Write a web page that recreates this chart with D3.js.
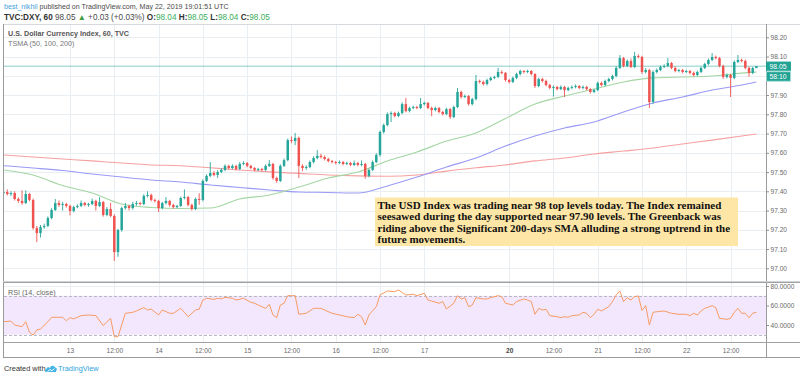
<!DOCTYPE html>
<html>
<head>
<meta charset="utf-8">
<script src="https://cdn.jsdelivr.net/npm/d3@7"></script>
<style>
  body { margin: 0; background: #fff; }
  svg { display: block; font-family: "Liberation Sans", Arial, sans-serif; }
</style>
</head>
<body>
<script>
// ---- data (hourly DXY bars, May 12 - May 22 2019) ----
const firstOpen = 97.391;
const closes = [
  97.396, 97.386, 97.391, 97.360, 97.350, 97.339, 97.386, 97.355, 97.209, 97.183,
  97.214, 97.220, 97.261, 97.303, 97.339, 97.329, 97.334, 97.324, 97.298, 97.318,
  97.324, 97.339, 97.329, 97.334, 97.350, 97.324, 97.344, 97.277, 97.308, 97.272,
  97.084, 97.199, 97.313, 97.324, 97.313, 97.334, 97.339, 97.334, 97.376, 97.381,
  97.355, 97.350, 97.313, 97.339, 97.350, 97.329, 97.318, 97.324, 97.365, 97.370,
  97.329, 97.308, 97.360, 97.355, 97.454, 97.480, 97.495, 97.485, 97.500, 97.511,
  97.532, 97.521, 97.532, 97.516, 97.542, 97.547, 97.532, 97.521, 97.511, 97.516,
  97.511, 97.532, 97.542, 97.469, 97.454, 97.532, 97.562, 97.666, 97.661, 97.677,
  97.532, 97.521, 97.526, 97.552, 97.573, 97.584, 97.578, 97.568, 97.557, 97.552,
  97.547, 97.552, 97.542, 97.547, 97.537, 97.547, 97.537, 97.542, 97.480, 97.511,
  97.552, 97.589, 97.708, 97.744, 97.801, 97.807, 97.791, 97.807, 97.853, 97.817,
  97.833, 97.838, 97.833, 97.853, 97.859, 97.833, 97.822, 97.833, 97.812, 97.801,
  97.827, 97.786, 97.838, 97.916, 97.890, 97.895, 97.853, 97.879, 97.973, 97.968,
  97.957, 97.978, 97.989, 97.994, 98.020, 98.015, 97.978, 97.968, 97.989, 98.009,
  98.025, 98.020, 98.025, 98.009, 97.947, 97.983, 97.973, 97.952, 97.937, 97.942,
  97.931, 97.942, 97.926, 97.937, 97.942, 97.947, 97.937, 97.942, 97.931, 97.916,
  97.926, 97.963, 97.952, 97.973, 97.983, 97.999, 98.041, 98.092, 98.051, 98.077,
  98.046, 98.103, 98.098, 98.020, 98.030, 97.864, 98.020, 98.030, 98.046, 98.051,
  98.066, 98.041, 98.025, 98.030, 98.020, 98.025, 98.015, 98.004, 98.020, 98.041,
  98.061, 98.082, 98.098, 98.092, 98.051, 97.994, 98.004, 97.989, 98.072, 98.082,
  98.077, 98.041, 98.015, 98.040, 98.050
];
const highs = [
  97.448, 97.410, 97.400, 97.400, 97.368, 97.405, 97.405, 97.392, 97.362, 97.220,
  97.225, 97.232, 97.270, 97.312, 97.360, 97.352, 97.345, 97.340, 97.330, 97.325,
  97.332, 97.352, 97.345, 97.340, 97.362, 97.356, 97.370, 97.350, 97.318, 97.340,
  97.280, 97.205, 97.320, 97.340, 97.330, 97.345, 97.350, 97.345, 97.385, 97.400,
  97.388, 97.362, 97.356, 97.345, 97.370, 97.356, 97.335, 97.330, 97.372, 97.410,
  97.376, 97.336, 97.368, 97.390, 97.462, 97.488, 97.552, 97.505, 97.510, 97.520,
  97.540, 97.538, 97.540, 97.538, 97.552, 97.556, 97.552, 97.538, 97.526, 97.522,
  97.522, 97.540, 97.562, 97.548, 97.476, 97.540, 97.570, 97.674, 97.685, 97.703,
  97.684, 97.540, 97.535, 97.560, 97.582, 97.614, 97.595, 97.586, 97.574, 97.563,
  97.558, 97.560, 97.558, 97.554, 97.553, 97.560, 97.553, 97.560, 97.548, 97.518,
  97.560, 97.598, 97.716, 97.752, 97.810, 97.815, 97.813, 97.814, 97.862, 97.885,
  97.840, 97.845, 97.844, 97.885, 97.866, 97.864, 97.840, 97.840, 97.838, 97.818,
  97.834, 97.833, 97.845, 97.937, 97.922, 97.903, 97.900, 97.886, 98.004, 97.980,
  97.975, 97.985, 97.996, 98.000, 98.041, 98.028, 98.020, 97.984, 97.996, 98.016,
  98.032, 98.030, 98.032, 98.030, 98.014, 97.990, 97.990, 97.980, 97.958, 97.950,
  97.948, 97.950, 97.948, 97.944, 97.950, 97.955, 97.952, 97.950, 97.948, 97.936,
  97.932, 97.970, 97.970, 97.980, 97.990, 98.006, 98.050, 98.108, 98.098, 98.085,
  98.090, 98.124, 98.112, 98.104, 98.040, 98.036, 98.028, 98.038, 98.054, 98.060,
  98.092, 98.072, 98.048, 98.036, 98.036, 98.032, 98.030, 98.022, 98.027, 98.048,
  98.068, 98.090, 98.118, 98.105, 98.098, 98.058, 98.012, 98.010, 98.080, 98.108,
  98.090, 98.084, 98.048, 98.046, 98.050
];
const lows = [
  97.380, 97.378, 97.375, 97.352, 97.340, 97.330, 97.334, 97.348, 97.200, 97.136,
  97.160, 97.205, 97.214, 97.255, 97.298, 97.320, 97.300, 97.315, 97.275, 97.290,
  97.312, 97.318, 97.322, 97.320, 97.328, 97.300, 97.318, 97.268, 97.270, 97.265,
  97.038, 97.060, 97.190, 97.305, 97.300, 97.305, 97.325, 97.326, 97.328, 97.368,
  97.348, 97.342, 97.292, 97.306, 97.332, 97.320, 97.310, 97.312, 97.318, 97.358,
  97.322, 97.300, 97.302, 97.330, 97.348, 97.448, 97.474, 97.478, 97.470, 97.494,
  97.504, 97.514, 97.515, 97.508, 97.510, 97.535, 97.525, 97.514, 97.504, 97.505,
  97.504, 97.505, 97.526, 97.460, 97.444, 97.448, 97.526, 97.556, 97.650, 97.640,
  97.469, 97.505, 97.512, 97.520, 97.546, 97.566, 97.570, 97.560, 97.550, 97.545,
  97.540, 97.541, 97.535, 97.536, 97.530, 97.531, 97.530, 97.530, 97.465, 97.472,
  97.505, 97.546, 97.580, 97.700, 97.738, 97.760, 97.784, 97.785, 97.800, 97.810,
  97.810, 97.826, 97.826, 97.827, 97.846, 97.826, 97.790, 97.815, 97.805, 97.794,
  97.795, 97.776, 97.780, 97.832, 97.882, 97.884, 97.845, 97.846, 97.872, 97.960,
  97.950, 97.950, 97.972, 97.982, 97.988, 98.008, 97.970, 97.960, 97.962, 97.982,
  98.002, 98.012, 98.014, 98.002, 97.937, 97.940, 97.965, 97.945, 97.930, 97.892,
  97.924, 97.925, 97.890, 97.920, 97.930, 97.935, 97.930, 97.930, 97.924, 97.908,
  97.910, 97.920, 97.945, 97.946, 97.966, 97.976, 97.992, 98.035, 98.044, 98.045,
  98.040, 98.040, 98.090, 98.010, 98.012, 97.833, 97.855, 98.012, 98.024, 98.040,
  98.045, 98.034, 98.018, 98.018, 98.013, 98.014, 98.008, 97.996, 97.998, 98.014,
  98.035, 98.055, 98.076, 98.085, 98.044, 97.984, 97.986, 97.890, 97.982, 98.066,
  98.070, 98.034, 97.995, 98.008, 98.040
];

// moving averages, read at every 8th bar
const smaBars = [0, 8, 16, 24, 32, 40, 48, 56, 64, 72, 80, 88, 96, 104, 112, 120, 128, 136, 144, 152, 160, 168, 176, 184, 192, 200, 204];
const sma50 = [97.511, 97.485, 97.430, 97.391, 97.334, 97.316, 97.311, 97.313, 97.360, 97.381, 97.422, 97.469, 97.500, 97.557,
  97.604, 97.661, 97.703, 97.778, 97.853, 97.895, 97.931, 97.968, 97.989, 97.994, 97.999, 98.014, 98.019];
const sma100 = [97.533, 97.521, 97.508, 97.490, 97.474, 97.459, 97.448, 97.433, 97.420, 97.407, 97.396, 97.394, 97.391, 97.428,
  97.474, 97.526, 97.573, 97.635, 97.687, 97.729, 97.760, 97.812, 97.859, 97.890, 97.926, 97.952, 97.968];
const sma200 = [97.589, 97.578, 97.568, 97.558, 97.547, 97.537, 97.533, 97.522, 97.511, 97.501, 97.493, 97.485, 97.480, 97.478,
  97.485, 97.505, 97.522, 97.537, 97.558, 97.573, 97.594, 97.609, 97.625, 97.646, 97.666, 97.687, 97.698];

// RSI(14)
const rsiBars = [
  0, 2, 3, 5, 6, 7, 8, 9, 10, 12, 13, 16, 17, 18, 19, 21, 23, 25, 27, 28, 29, 30, 31, 33, 35, 36, 38, 39, 40, 42,
  43, 45, 46, 48, 49, 50, 52, 53, 54, 55, 57, 58, 59, 60, 62, 63, 65, 67, 68, 69, 71, 72, 73, 74, 75, 76, 77, 78, 79, 80,
  82, 84, 86, 87, 89, 91, 93, 95, 96, 97, 98, 99, 101, 102, 104, 106, 107, 109, 111, 112, 114, 115, 116, 118, 119, 120, 122, 123, 124, 125,
  126, 127, 128, 130, 131, 132, 134, 135, 136, 138, 139, 141, 142, 143, 144, 145, 146, 147, 148, 150, 151, 152, 153, 154, 156, 157, 158, 159, 160, 161,
  162, 164, 165, 166, 167, 168, 169, 170, 171, 172, 173, 174, 175, 176, 177, 179, 181, 183, 185, 186, 187, 188, 189, 190, 192, 193, 194, 196, 197, 198,
  199, 200, 201, 202, 203, 204
];
const rsiValues = [
  43.4, 44, 40, 38.3, 43.4, 32.5, 29.7, 34.9, 35.9, 43.4, 47.9, 47.9, 44.4, 47.5, 46.2, 49.6, 50.3, 49.6, 39.3, 43.4, 46.8, 28, 28, 52, 53, 54.4, 57.8, 55.4, 56.4, 50.3,
  55.4, 52, 52, 57.1, 53, 48.5, 55.4, 56.1, 65.6, 67.4, 66.3, 67.4, 66.7, 68.4, 67.4, 65.6, 67.4, 63.3, 62.3, 60.5, 57.1, 61.2, 50.3, 47.5, 60.5, 62.3, 70.1, 70.1, 70.1, 51,
  52, 57.1, 57.1, 55.4, 52, 50.3, 48.5, 47.5, 51, 48.5, 40, 50.3, 58.8, 70.8, 74.9, 74.2, 75.9, 70.8, 71.5, 70.1, 72.5, 65.6, 64.6, 62.3, 64, 56.4, 62.3, 70.1, 66.7, 68,
  58.8, 60.5, 68, 66.7, 66.7, 68, 70.1, 69.1, 62.3, 60.5, 64, 66.7, 65.6, 64, 51, 57.1, 55.4, 56.1, 49.6, 48.5, 47.5, 48.5, 47.9, 49.6, 50.3, 53, 52, 47.5, 51, 56.1,
  54.4, 58.8, 64, 70.8, 74.9, 64, 68, 65.6, 69.1, 69.8, 55, 59.8, 40, 53, 53.6, 54.4, 52, 51, 51, 49.6, 52, 50.3, 54.4, 57.1, 59.8, 57.8, 46.8, 45.8, 46.8, 53,
  57.1, 52, 52, 47.5, 52, 53
];

// axes
const priceTicks = [97.0, 97.1, 97.2, 97.3, 97.4, 97.5, 97.6, 97.7, 97.8, 97.9, 98.0, 98.1, 98.2];
const rsiTicks = [80, 60, 40];
const timeTicks = [18, 30, 42, 54, 66, 78, 90, 102, 114, 137, 149, 161, 173, 185, 197];
const timeLabels = ["13", "12:00", "14", "12:00", "15", "12:00", "16", "12:00", "17", "20", "12:00", "21", "12:00", "22", "12:00"];
const lastPrice = 98.05;
const countdown = "58:10";

const bars = closes.map((c, i) => ({
  i, o: i === 0 ? firstOpen : closes[i - 1], h: highs[i], l: lows[i], c
}));

// ---- layout ----
const W = 800, H = 378;
const left = 4, right = 766;
const paneTop = 24, paneBot = 282, rsiTop = 283, rsiBot = 342, frameBot = 357;
const up = "#26a69a", down = "#ef5350";

const x = d3.scaleLinear().domain([0, 204]).range([3.6, 756.4]);
const y = d3.scaleLinear().domain([97.0, 98.2]).range([268.3, 37.3]);
const yr = d3.scaleLinear().domain([40, 80]).range([325, 286]);

const svg = d3.select("body").append("svg")
    .attr("width", W)
    .attr("height", H);

const defs = svg.append("defs");
defs.append("clipPath").attr("id", "clipPrice")
  .append("rect").attr("x", left).attr("y", paneTop).attr("width", right - left).attr("height", paneBot - paneTop);
defs.append("clipPath").attr("id", "clipRsi")
  .append("rect").attr("x", left).attr("y", rsiTop).attr("width", right - left).attr("height", rsiBot - rsiTop);

// grid
const grid = svg.append("g").attr("stroke", "#e9eef3").attr("stroke-width", 1);
grid.selectAll(".v").data(timeTicks).join("line")
    .attr("x1", d => Math.round(x(d)) + 0.5).attr("x2", d => Math.round(x(d)) + 0.5)
    .attr("y1", paneTop).attr("y2", rsiBot);
grid.selectAll(".h").data(priceTicks).join("line")
    .attr("x1", left).attr("x2", right)
    .attr("y1", d => Math.round(y(d)) + 0.5).attr("y2", d => Math.round(y(d)) + 0.5);

// RSI band
svg.append("rect")
    .attr("x", left).attr("width", right - left)
    .attr("y", yr(70)).attr("height", yr(30) - yr(70))
    .attr("fill", "#f3e7fd");
grid.append("g").selectAll("line").data(rsiTicks).join("line")
    .attr("x1", left).attr("x2", right)
    .attr("y1", d => Math.round(yr(d)) + 0.5).attr("y2", d => Math.round(yr(d)) + 0.5);
svg.append("g").selectAll("line").data([70, 30]).join("line")
    .attr("x1", left).attr("x2", right)
    .attr("y1", d => Math.round(yr(d)) + 0.5).attr("y2", d => Math.round(yr(d)) + 0.5)
    .attr("stroke", "#b9b9c4").attr("stroke-dasharray", "3,2");

// price pane
const price = svg.append("g").attr("clip-path", "url(#clipPrice)");

price.append("line")
    .attr("x1", left).attr("x2", right)
    .attr("y1", y(lastPrice)).attr("y2", y(lastPrice))
    .attr("stroke", "#26a69a").attr("stroke-opacity", 0.55);

const smaLine = vals => d3.line()
    .x((d, k) => x(smaBars[k]))
    .y(d => y(d))
    .curve(d3.curveMonotoneX)(vals);

price.append("path").attr("d", smaLine(sma200)).attr("fill", "none").attr("stroke", "#f7a0a0").attr("stroke-width", 1.1);
price.append("path").attr("d", smaLine(sma100)).attr("fill", "none").attr("stroke", "#9a9af6").attr("stroke-width", 1.1);
price.append("path").attr("d", smaLine(sma50)).attr("fill", "none").attr("stroke", "#a3d6a3").attr("stroke-width", 1.1);

const candle = price.append("g").selectAll("g").data(bars).join("g")
    .attr("fill", d => d.c >= d.o ? up : down)
    .attr("stroke", d => d.c >= d.o ? up : down);
candle.append("line")
    .attr("x1", d => x(d.i)).attr("x2", d => x(d.i))
    .attr("y1", d => y(d.h)).attr("y2", d => y(d.l))
    .attr("stroke-width", 0.9);
candle.append("rect")
    .attr("stroke", "none")
    .attr("x", d => x(d.i) - 1.25)
    .attr("width", 2.5)
    .attr("y", d => y(Math.max(d.o, d.c)))
    .attr("height", d => Math.max(0.9, Math.abs(y(d.o) - y(d.c))));

// RSI line
svg.append("g").attr("clip-path", "url(#clipRsi)")
  .append("path")
    .attr("d", d3.line().x((d, k) => x(rsiBars[k])).y(d => yr(d))(rsiValues))
    .attr("fill", "none")
    .attr("stroke", "#f79b63")
    .attr("stroke-width", 1);

// frame
const frame = svg.append("g").attr("fill", "none");
frame.append("line").attr("x1", 3).attr("x2", W).attr("y1", paneTop + 0.5).attr("y2", paneTop + 0.5).attr("stroke", "#d6d9de");
frame.append("line").attr("x1", 3.5).attr("x2", 3.5).attr("y1", paneTop).attr("y2", frameBot).attr("stroke", "#9a9a9a");
frame.append("line").attr("x1", right + 0.5).attr("x2", right + 0.5).attr("y1", paneTop).attr("y2", frameBot).attr("stroke", "#9a9a9a");
frame.append("line").attr("x1", 3).attr("x2", W).attr("y1", paneBot - 0.5).attr("y2", paneBot - 0.5).attr("stroke", "#d0d3d8");
frame.append("line").attr("x1", 3).attr("x2", W).attr("y1", paneBot + 0.5).attr("y2", paneBot + 0.5).attr("stroke", "#a0a0a0");
frame.append("line").attr("x1", 3).attr("x2", W).attr("y1", rsiBot + 0.5).attr("y2", rsiBot + 0.5).attr("stroke", "#a0a0a0");
frame.append("line").attr("x1", 3).attr("x2", W).attr("y1", frameBot + 0.5).attr("y2", frameBot + 0.5).attr("stroke", "#9a9a9a");

// price axis
const axisFont = g => g
    .call(g => g.select(".domain").remove())
    .call(g => g.selectAll(".tick line").attr("stroke", "#8f8f8f"))
    .call(g => g.selectAll(".tick text")
        .attr("fill", "#6a6a6a")
        .attr("font-size", 6.6)
        .attr("font-family", "'Liberation Sans', Arial, sans-serif"));

svg.append("g")
    .attr("transform", `translate(${right},0)`)
    .call(d3.axisRight(y).tickValues(priceTicks).tickFormat(d3.format(".2f")).tickSize(3).tickPadding(1.5))
    .call(axisFont);

svg.append("g")
    .attr("transform", `translate(${right},0)`)
    .call(d3.axisRight(yr).tickValues(rsiTicks).tickFormat(d3.format(".4f")).tickSize(3).tickPadding(1.5))
    .call(axisFont);

// time axis
svg.append("g")
    .attr("transform", `translate(0,${rsiBot})`)
    .call(d3.axisBottom(x).tickValues(timeTicks).tickFormat((d, k) => timeLabels[k]).tickSize(0).tickPadding(6))
    .call(axisFont)
    .call(g => g.selectAll(".tick text").attr("font-weight", (d, k) => timeLabels[k] === "20" ? "bold" : null)
        .attr("fill", (d, k) => timeLabels[k] === "20" ? "#444" : "#6a6a6a"));

// last price + countdown labels
const tag = svg.append("g");
tag.append("rect").attr("x", right).attr("y", y(lastPrice) - 4.6).attr("width", 25).attr("height", 9.2).attr("fill", "#22a394");
tag.append("text").attr("x", right + 3.5).attr("y", y(lastPrice)).attr("dy", "0.35em")
    .attr("font-size", 6.8).attr("fill", "#fff").text(d3.format(".2f")(lastPrice));
tag.append("rect").attr("x", right + 0.5).attr("y", y(lastPrice) + 5.6).attr("width", 24).attr("height", 9.4)
    .attr("fill", "#22a394").attr("stroke", "#9fdcd4").attr("stroke-width", 0.8);
tag.append("text").attr("x", right + 3.5).attr("y", y(lastPrice) + 10.3).attr("dy", "0.35em")
    .attr("font-size", 6.8).attr("fill", "#fff").text(countdown);

// header
const head = svg.append("g").attr("fill", "#4a4a4a");
const h1 = head.append("text").attr("x", 4).attr("y", 9).attr("font-size", 7.1);
h1.append("tspan").attr("fill", "#3f9fdb").text("best_nikhil");
h1.append("tspan").text(" published on TradingView.com, May 22, 2019 19:01:51 UTC");
const h2 = head.append("text").attr("x", 4).attr("y", 19.5).attr("font-size", 8.2);
h2.append("tspan").attr("font-weight", "bold").attr("fill", "#333").text("TVC:DXY, 60 ");
h2.append("tspan").text("98.05 ");
h2.append("tspan").attr("fill", "#3d9a3d").text("▲");
h2.append("tspan").text(" +0.03 (+0.03%) ");
[["O:", "98.04"], ["H:", "98.05"], ["L:", "98.04"], ["C:", "98.05"]].forEach(([k, v], n) => {
  h2.append("tspan").attr("font-weight", "bold").attr("fill", "#333").text((n ? " " : "") + k);
  h2.append("tspan").attr("fill", "#3cae5c").text(v);
});

// pane legends
svg.append("text").attr("x", 8).attr("y", 36).attr("font-size", 7.2).attr("font-weight", "bold").attr("fill", "#555")
    .text("U.S. Dollar Currency Index, 60, TVC");
svg.append("text").attr("x", 8).attr("y", 46).attr("font-size", 7.2).attr("fill", "#777")
    .text("TSMA (50, 100, 200)");
svg.append("text").attr("x", 8).attr("y", 295).attr("font-size", 7.2).attr("fill", "#666")
    .text("RSI (14, close)");

// annotation box
const note = [
  "The USD Index was trading near 98 top levels today. The Index remained",
  "seesawed during the day supported near 97.90 levels. The Greenback was",
  "riding above the Significant 200-days SMA alluding a strong uptrend in the",
  "future movements."
];
svg.append("rect").attr("x", 375).attr("y", 197.5).attr("width", 363).attr("height", 48.5).attr("fill", "#fde6a6");
svg.append("g")
    .attr("font-family", "'Liberation Serif', 'Times New Roman', serif")
    .attr("font-weight", "bold").attr("font-size", 11).attr("fill", "#111")
  .selectAll("text").data(note).join("text")
    .attr("x", 377.5).attr("y", (d, k) => 208.8 + k * 11.4)
    .text(d => d);

// footer
const foot = svg.append("g").attr("font-size", 7.4);
foot.append("text").attr("x", 4).attr("y", 371).attr("fill", "#333").text("Created with");
const logo = foot.append("g").attr("fill", "#43b4e5").attr("transform", "translate(45,364)");
logo.append("path").attr("d", "M1,8 C-0.5,8 -0.5,5 1.5,5 C1.5,3 4,2.5 5,4 C5.5,1.5 9,1 10,3.5 C12,3.5 12.5,6 11,7 L11,8 Z");
logo.append("path").attr("d", "M2.5,7.5 L5,5.5 L7,6.8 L9.5,4.5").attr("fill", "none").attr("stroke", "#fff").attr("stroke-width", 0.9);
foot.append("text").attr("x", 58).attr("y", 371).attr("fill", "#2ea3dc").text("TradingView");
</script>
</body>
</html>
